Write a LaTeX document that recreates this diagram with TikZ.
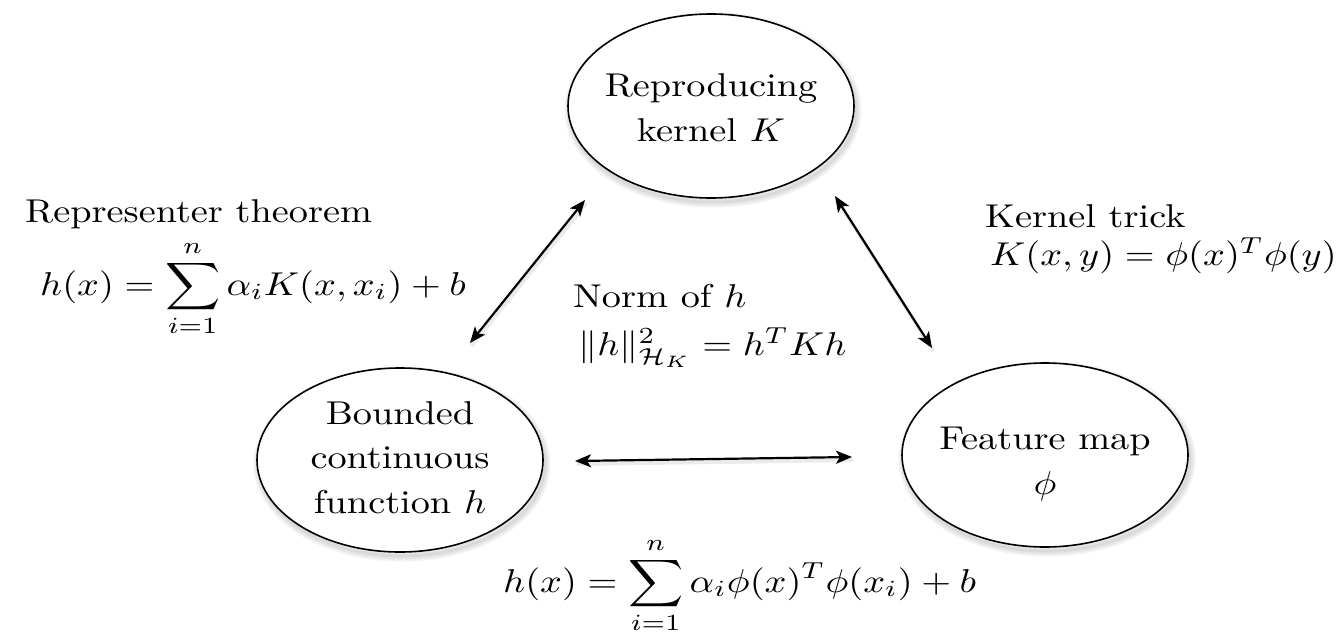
\documentclass[tikz,border=0pt]{standalone}
\usepackage{graphicx}
\usetikzlibrary{arrows.meta,shapes.geometric}
\newcommand{\wide}[1]{\scalebox{3.83}[3.3]{#1}}
\newcommand{\lines}[1]{\wide{\renewcommand{\arraystretch}{1.12}\begin{tabular}{@{}c@{}}#1\end{tabular}}}
\begin{document}
\begin{tikzpicture}[x=1pt,y=-1pt,
  every node/.style={inner sep=0pt},
  lbl/.style={anchor=base west},
  ell/.style={draw, line width=1.6pt, ellipse, minimum width=286pt, minimum height=184pt},
  shd/.style={black, opacity=0.05},
  dbl/.style={line width=2.2pt, {Stealth[length=16pt,width=13pt,inset=4pt]}-{Stealth[length=16pt,width=13pt,inset=4pt]}},
  ashd/.style={line width=4pt, black, opacity=0.08},
]
\useasboundingbox (0,0) rectangle (1340,634);

% soft shadows of the ellipses
\foreach \cx/\cy in {711/106, 400/460, 1045/455}{
  \draw[shd, line width=11pt] (\cx+2,\cy+4) ellipse [x radius=143, y radius=92];
  \draw[shd, line width=7pt] (\cx+2,\cy+4) ellipse [x radius=143, y radius=92];
  \draw[shd, line width=3pt] (\cx+2,\cy+4) ellipse [x radius=143, y radius=92];
}

% ellipses
\node[ell, fill=white] (K) at (711,106) {};
\node[ell, fill=white] (H) at (400,460) {};
\node[ell, fill=white] (F) at (1045,455) {};

\node (Ktext) at (711,110) {\lines{Reproducing\\kernel $K$}};
\node (Htext) at (400,460) {\lines{Bounded\\continuous\\function $h$}};
\node (Ftext) at (1045,463) {\lines{Feature map\\$\phi$}};

% labels
\node[lbl] (rt) at (25,222) {\wide{Representer theorem}};
\node[lbl] (rf) at (40,295) {\wide{$\displaystyle h(x)=\sum_{i=1}^{n}\alpha_i K(x,x_i)+b$}};
\node[lbl] (kt) at (985,227) {\wide{Kernel trick}};
\node[lbl] (kf) at (990,265) {\wide{$K(x,y)=\phi(x)^T\phi(y)$}};
\node[lbl] (nt) at (573,307) {\wide{Norm of $h$}};
\node[lbl] (nf) at (578,355) {\wide{$\|h\|^2_{\mathcal{H}_K}=h^TKh$}};
\node[lbl] (bf) at (503,592) {\wide{$\displaystyle h(x)=\sum_{i=1}^{n}\alpha_i\phi(x)^T\phi(x_i)+b$}};

% arrow end points
\coordinate (a1) at (470,343);
\coordinate (a2) at (585,200);
\coordinate (b1) at (835,196);
\coordinate (b2) at (932,348);
\coordinate (c1) at (575,461);
\coordinate (c2) at (852,457);

\foreach \p/\q in {a1/a2, b1/b2, c1/c2}{
  \draw[ashd] ([shift={(1.5,3)}]\p) -- ([shift={(1.5,3)}]\q);
}
\draw[dbl] (a1) -- (a2);
\draw[dbl] (b1) -- (b2);
\draw[dbl] (c1) -- (c2);
\end{tikzpicture}
\end{document}
